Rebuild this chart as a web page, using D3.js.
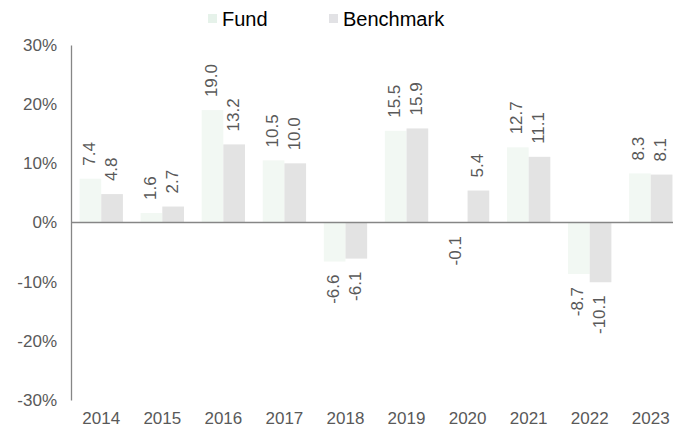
<!DOCTYPE html>
<html>
<head>
<meta charset="utf-8">
<script src="https://cdn.jsdelivr.net/npm/d3@7"></script>
<style>
  body { margin: 0; background: #fff; }
  text { font-family: "Liberation Sans", Arial, sans-serif; }
</style>
</head>
<body>
<div id="chart"></div>
<script>
const years = ["2014", "2015", "2016", "2017", "2018", "2019", "2020", "2021", "2022", "2023"];
const fund = [7.4, 1.6, 19.0, 10.5, -6.6, 15.5, -0.1, 12.7, -8.7, 8.3];
const benchmark = [4.8, 2.7, 13.2, 10.0, -6.1, 15.9, 5.4, 11.1, -10.1, 8.1];
const seriesNames = ["Fund", "Benchmark"];
const yTicks = [-30, -20, -10, 0, 10, 20, 30];

const width = 673, height = 432;
const margin = { top: 45, right: -8, bottom: 32, left: 71 };
const colors = { Fund: "#f2f8f3", Benchmark: "#e3e3e3" };
const legendColors = { Fund: "#e6f2ea", Benchmark: "#e2e2e5" };
const textGray = "#595959";

const svg = d3.select("#chart").append("svg")
  .attr("width", width)
  .attr("height", height);

const x = d3.scaleBand()
  .domain(years)
  .range([margin.left, width - margin.right])
  .paddingInner(0.29)
  .paddingOuter(0.14);

const xSub = d3.scaleBand()
  .domain(seriesNames)
  .range([0, x.bandwidth()]);

const y = d3.scaleLinear()
  .domain([-30, 30])
  .range([height - margin.bottom, margin.top]);

const rows = years.map((yr, i) => ({ year: yr, Fund: fund[i], Benchmark: benchmark[i] }));

// bars
const groups = svg.append("g").selectAll("g")
  .data(rows)
  .join("g")
  .attr("transform", d => `translate(${x(d.year)},0)`);

groups.selectAll("rect")
  .data(d => seriesNames.map(k => ({ key: k, value: d[k] })))
  .join("rect")
  .attr("x", d => xSub(d.key))
  .attr("y", d => y(Math.max(0, d.value)))
  .attr("width", xSub.bandwidth())
  .attr("height", d => Math.abs(y(d.value) - y(0)))
  .attr("fill", d => colors[d.key]);

// value labels, rotated, a bit away from the bar end
groups.selectAll("text")
  .data(d => seriesNames.map(k => ({ key: k, value: d[k] })))
  .join("text")
  .attr("transform", d => {
    const cx = xSub(d.key) + xSub.bandwidth() / 2 - 1;
    const yy = d.value >= 0 ? y(d.value) - 13 : y(d.value) + 13;
    return `translate(${cx},${yy}) rotate(-90)`;
  })
  .attr("text-anchor", d => d.value >= 0 ? "start" : "end")
  .attr("dominant-baseline", "central")
  .attr("font-size", 17)
  .attr("fill", textGray)
  .text(d => d.value.toFixed(1));

// y axis
const yAxis = d3.axisLeft(y)
  .tickValues(yTicks)
  .tickSize(0)
  .tickPadding(14)
  .tickFormat(d => d + "%");

svg.append("g")
  .attr("transform", `translate(${margin.left},0)`)
  .call(yAxis)
  .call(g => g.select(".domain").attr("stroke", "#868686").attr("stroke-width", 1.3))
  .call(g => g.selectAll("text").attr("font-size", 17).attr("fill", textGray).attr("font-family", "Liberation Sans, Arial, sans-serif"));

// zero line
svg.append("line")
  .attr("x1", margin.left)
  .attr("x2", width)
  .attr("y1", y(0))
  .attr("y2", y(0))
  .attr("stroke", "#868686")
  .attr("stroke-width", 1.3);

// x labels
const xAxis = d3.axisBottom(x).tickSize(0).tickPadding(12);
svg.append("g")
  .attr("transform", `translate(0,${height - margin.bottom})`)
  .call(xAxis)
  .call(g => g.select(".domain").remove())
  .call(g => g.selectAll("text").attr("font-size", 17).attr("fill", textGray).attr("font-family", "Liberation Sans, Arial, sans-serif"));

// legend
const legendPos = [208, 329];
const legend = svg.append("g").selectAll("g")
  .data(seriesNames)
  .join("g")
  .attr("transform", (d, i) => `translate(${legendPos[i]},13)`);

legend.append("rect")
  .attr("width", 9)
  .attr("height", 9)
  .attr("y", 1)
  .attr("fill", d => legendColors[d]);

legend.append("text")
  .attr("x", 14)
  .attr("y", 6)
  .attr("dominant-baseline", "central")
  .attr("font-size", 20)
  .attr("fill", "#000")
  .text(d => d);
</script>
</body>
</html>
